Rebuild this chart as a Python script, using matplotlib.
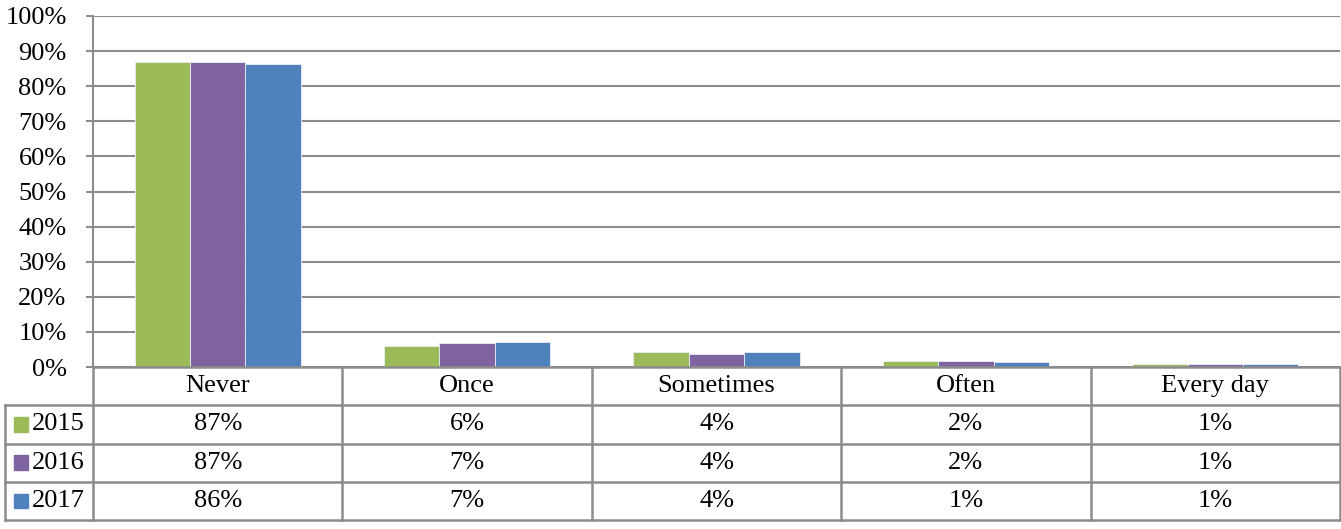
import matplotlib.pyplot as plt
from matplotlib.patches import Rectangle

plt.rcParams['font.family'] = ['Liberation Serif', 'DejaVu Serif']

categories = ["Never", "Once", "Sometimes", "Often", "Every day"]
years = ["2015", "2016", "2017"]
vals_2015 = [86.9, 6.1, 4.4, 1.6, 0.85]
vals_2016 = [86.9, 6.8, 3.7, 1.65, 0.85]
vals_2017 = [86.3, 7.0, 4.2, 1.3, 0.9]
labels_2015 = ["87%", "6%", "4%", "2%", "1%"]
labels_2016 = ["87%", "7%", "4%", "2%", "1%"]
labels_2017 = ["86%", "7%", "4%", "1%", "1%"]
colors = ["#9BBB59", "#8064A2", "#4F81BD"]

series = [vals_2015, vals_2016, vals_2017]
labels = [labels_2015, labels_2016, labels_2017]

W, H = 1341, 529
fig = plt.figure(figsize=(W / 100, H / 100), dpi=100)
grid_c = "#8C8C8C"
fs = 19

# main bar axes
ax = fig.add_axes([93 / W, (H - 367) / H, 1247 / W, 351 / H])
bw = 2 / 9
for i, vals in enumerate(series):
    xs = [k + (i - 1) * bw for k in range(len(categories))]
    ax.bar(xs, vals, width=bw, color=colors[i], edgecolor="#E8EEF5", linewidth=0.6, zorder=3)

ax.set_xlim(-0.5, len(categories) - 0.5)
ax.set_ylim(0, 100)
ax.set_yticks(range(0, 101, 10))
ax.set_yticklabels([f"{v}%" for v in range(0, 101, 10)], fontsize=fs)
ax.yaxis.grid(True, color=grid_c, linewidth=1.5, zorder=0)
ax.set_xticks([])
ax.tick_params(axis="y", length=5, width=1.5, color=grid_c, pad=14)
for s in ["top", "right", "bottom"]:
    ax.spines[s].set_visible(False)
ax.spines["left"].set_color(grid_c)
ax.spines["left"].set_linewidth(1.5)

# data table below
tax = fig.add_axes([93 / W, (H - 520) / H, 1247 / W, 153 / H])
tax.set_xlim(-0.5, len(categories) - 0.5)
tax.set_ylim(4, 0)
tax.axis("off")
leg_left = -0.5 - 88 / 249.4
lw = 1.8

# horizontal lines
tax.plot([-0.5, 4.5], [0, 0], color=grid_c, lw=lw, clip_on=False)
for r in range(1, 5):
    tax.plot([leg_left, 4.5], [r, r], color=grid_c, lw=lw, clip_on=False)
# vertical lines
for c in range(6):
    tax.plot([c - 0.5, c - 0.5], [0, 4], color=grid_c, lw=lw, clip_on=False)
tax.plot([leg_left, leg_left], [1, 4], color=grid_c, lw=lw, clip_on=False)

for k, cat in enumerate(categories):
    tax.text(k, 0.5, cat, ha="center", va="center", fontsize=fs)
for i, yr in enumerate(years):
    tax.add_patch(Rectangle((leg_left + 9 / 249.4, i + 1.5 - 0.19), 14 / 249.4, 0.38,
                            color=colors[i], clip_on=False))
    tax.text(leg_left + 27 / 249.4, i + 1.5, yr, ha="left", va="center", fontsize=fs)
    for k in range(len(categories)):
        tax.text(k, i + 1.5, labels[i][k], ha="center", va="center", fontsize=fs)

fig.savefig("out.png", dpi=100)
